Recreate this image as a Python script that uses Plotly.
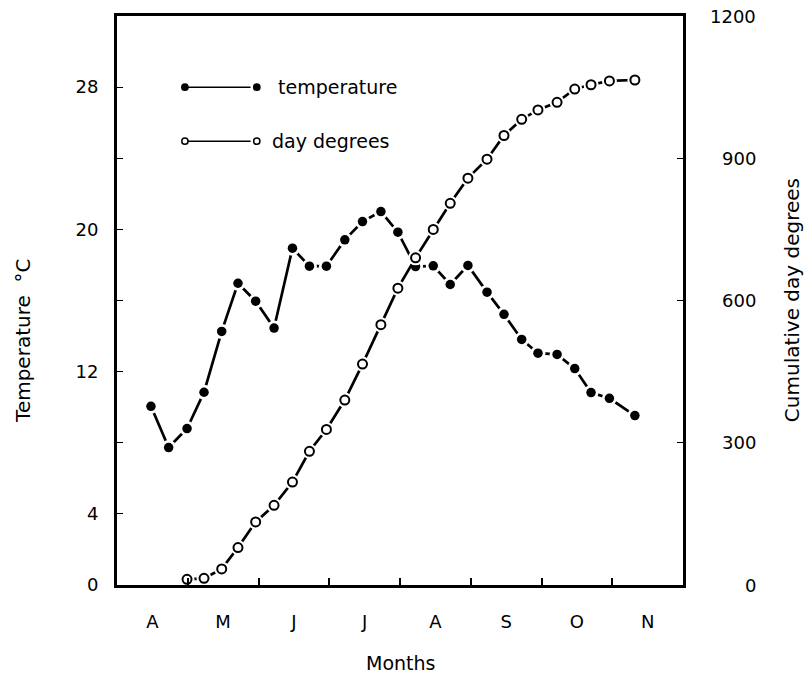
import plotly.graph_objects as go

# ---------------- data ----------------
month_labels = ["A", "M", "J", "J", "A", "S", "O", "N"]
month_label_pos = [0.5, 1.5, 2.5, 3.5, 4.5, 5.5, 6.5, 7.5]
month_boundaries = [1, 2, 3, 4, 5, 6, 7]

# weekly sampling dates, expressed in months from 1 April
week_pos = [0.48, 0.73, 0.99, 1.23, 1.48, 1.71, 1.96, 2.22, 2.48, 2.72,
            2.96, 3.22, 3.47, 3.73, 3.97, 4.22, 4.47, 4.71, 4.96, 5.23,
            5.47, 5.72, 5.95, 6.22, 6.47, 6.70, 6.96, 7.32]
temperature = [10.05, 7.73, 8.80, 10.84, 14.26, 16.97, 15.96, 14.45, 18.94, 17.93,
               17.93, 19.41, 20.44, 21.0, 19.84, 17.91, 17.95, 16.90, 17.97, 16.47,
               15.22, 13.81, 13.04, 12.97, 12.17, 10.82, 10.50, 9.53]

dd_pos = [0.99, 1.23, 1.48, 1.71, 1.96, 2.22, 2.48, 2.72, 2.96, 3.22,
          3.47, 3.73, 3.97, 4.22, 4.47, 4.71, 4.96, 5.23, 5.47, 5.72,
          5.95, 6.22, 6.47, 6.70, 6.96, 7.32]
day_degrees = [12, 14, 34, 79, 133, 168, 217, 282, 328, 390,
               466, 549, 626, 690, 750, 805, 858, 898, 948, 982,
               1002, 1018, 1046, 1055, 1063, 1065]

left_ticks = [0, 4, 12, 20, 28]
left_minor = [8, 16, 24]
right_ticks = [0, 300, 600, 900, 1200]

FONT = "DejaVu Sans"
FS_TICK = 18
FS_TITLE = 20
FS_LEG = 19

fig = go.Figure()

# lines
fig.add_trace(go.Scatter(x=week_pos, y=temperature, mode="lines",
                         line=dict(color="black", width=2.7),
                         xaxis="x", yaxis="y", hoverinfo="skip"))
# white halos (gap between marker and line)
fig.add_trace(go.Scatter(x=week_pos, y=temperature, mode="markers",
                         marker=dict(color="white", size=15, line=dict(width=0)),
                         xaxis="x", yaxis="y", hoverinfo="skip"))
fig.add_trace(go.Scatter(x=week_pos, y=temperature, mode="markers",
                         marker=dict(color="black", size=9.5, line=dict(width=0)),
                         xaxis="x", yaxis="y", name="temperature"))

fig.add_trace(go.Scatter(x=dd_pos, y=day_degrees, mode="lines",
                         line=dict(color="black", width=2.7),
                         xaxis="x", yaxis="y2", hoverinfo="skip"))
fig.add_trace(go.Scatter(x=dd_pos, y=day_degrees, mode="markers",
                         marker=dict(color="white", size=15, line=dict(width=0)),
                         xaxis="x", yaxis="y2", hoverinfo="skip"))
fig.add_trace(go.Scatter(x=dd_pos, y=day_degrees, mode="markers",
                         marker=dict(color="white", size=9,
                                     line=dict(color="black", width=2)),
                         xaxis="x", yaxis="y2", name="day degrees"))

fig.update_layout(
    width=807, height=676,
    margin=dict(l=117, r=124, t=16, b=91),
    paper_bgcolor="white", plot_bgcolor="white",
    showlegend=False,
    font=dict(family=FONT, size=FS_TICK, color="black"),
    xaxis=dict(range=[0, 8], showgrid=False, zeroline=False,
               showline=True, linewidth=3, linecolor="black", mirror=True,
               ticks="", tickvals=month_label_pos, ticktext=month_labels,
               ticklabelstandoff=18,
               tickfont=dict(family=FONT, size=FS_TICK),
               minor=dict(ticks="inside", tickvals=month_boundaries,
                          ticklen=7, tickwidth=1.5, tickcolor="black",
                          showgrid=False)),
    yaxis=dict(range=[0, 32], showgrid=False, zeroline=False,
               showline=True, linewidth=3, linecolor="black",
               ticks="inside", tickvals=left_ticks,
               ticktext=[str(v) for v in left_ticks],
               ticklen=6, tickwidth=1, tickcolor="black",
               ticklabelstandoff=12,
               tickfont=dict(family=FONT, size=FS_TICK),
               minor=dict(ticks="inside", tickvals=left_minor, ticklen=6,
                          tickwidth=1, tickcolor="black", showgrid=False)),
    yaxis2=dict(range=[0, 1200], overlaying="y", side="right",
                showgrid=False, zeroline=False,
                showline=True, linewidth=3, linecolor="black",
                ticks="inside", tickvals=right_ticks, ticklen=6, tickwidth=1,
                tickcolor="black", showticklabels=False),
)

# right-axis tick labels (right aligned, as in the reference)
for v in right_ticks:
    fig.add_annotation(x=1.1325, xref="paper", y=v, yref="y2", text=str(v),
                       showarrow=False, xanchor="right", yanchor="middle",
                       font=dict(family=FONT, size=FS_TICK))

# axis titles
fig.add_annotation(x=0.5, xref="paper", y=-0.137, yref="paper", text="Months",
                   showarrow=False, xanchor="center", yanchor="middle",
                   font=dict(family=FONT, size=FS_LEG))
fig.add_annotation(x=-0.166, xref="paper", y=0.429, yref="paper",
                   text="Temperature  °C", textangle=-90, showarrow=False,
                   xanchor="center", yanchor="middle",
                   font=dict(family=FONT, size=FS_TITLE))
fig.add_annotation(x=1.192, xref="paper", y=0.5, yref="paper",
                   text="Cumulative day degrees", textangle=-90, showarrow=False,
                   xanchor="center", yanchor="middle",
                   font=dict(family=FONT, size=FS_TITLE))

# legend drawn inside the plot
leg_rows = [(0.875, "temperature", "black", 0.281),
            (0.780, "day degrees", "white", 0.270)]
for yp, label, fill, tx in leg_rows:
    fig.add_shape(type="line", xref="paper", yref="paper",
                  x0=0.125, x1=0.236, y0=yp, y1=yp,
                  line=dict(color="black", width=1.5))
    for xc in (0.120, 0.247):
        r = 0.0055
        fig.add_shape(type="circle", xref="paper", yref="paper",
                      x0=xc - r, x1=xc + r, y0=yp - r * 566 / 569,
                      y1=yp + r * 566 / 569,
                      fillcolor=fill, line=dict(color="black", width=1.5))
    fig.add_annotation(x=tx, xref="paper", y=yp, yref="paper", text=label,
                       showarrow=False, xanchor="left", yanchor="middle",
                       font=dict(family=FONT, size=FS_LEG))

fig.write_html("out.html")
